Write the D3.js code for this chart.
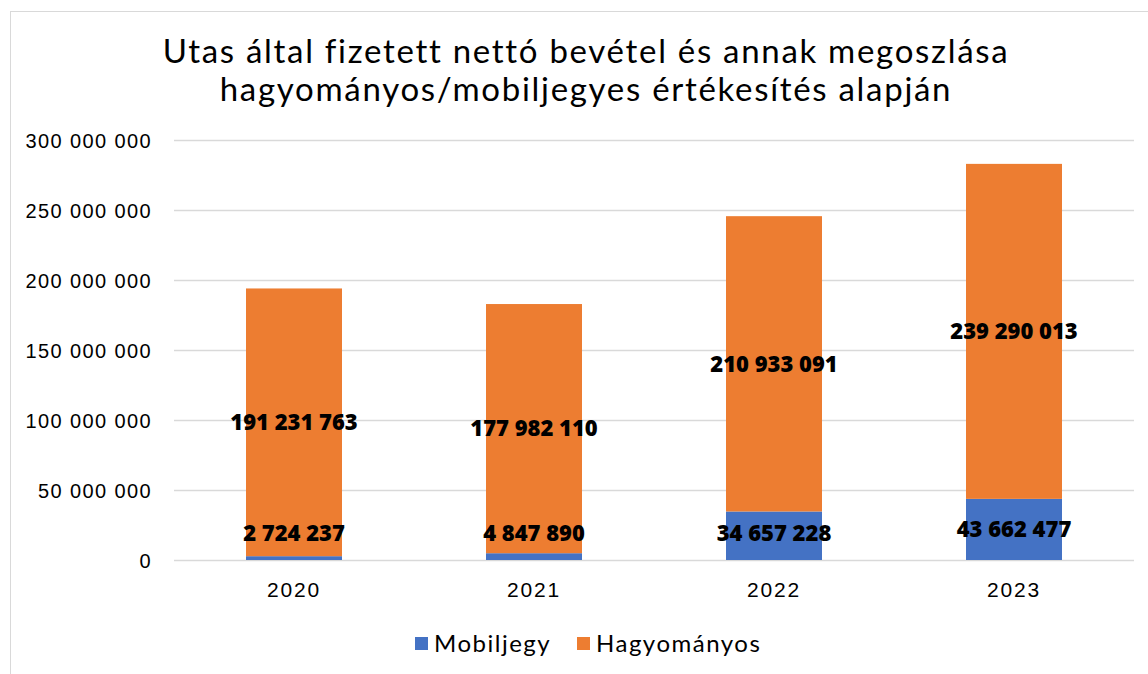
<!DOCTYPE html>
<html>
<head>
<meta charset="utf-8">
<script src="https://cdn.jsdelivr.net/npm/d3@7"></script>
<style>
  body { margin: 0; background: #fff; }
  svg { display: block; }
</style>
</head>
<body>
<div id="chart"></div>
<script>
// Chart data
const years = ['2020', '2021', '2022', '2023'];
const mobil = [2724237, 4847890, 34657228, 43662477];
const hagyomanyos = [191231763, 177982110, 210933091, 239290013];
const seriesNames = ['Mobiljegy', 'Hagyományos'];
const seriesColors = ['#4472C4', '#ED7D31'];
const yTicks = [0, 50000000, 100000000, 150000000, 200000000, 250000000, 300000000];
const titleLines = [
  'Utas által fizetett nettó bevétel és annak megoszlása',
  'hagyományos/mobiljegyes értékesítés alapján'
];

const W = 1148, H = 674;
const margin = { top: 140, left: 174, right: 14, bottom: 114 };
const plotW = W - margin.left - margin.right;
const plotH = H - margin.top - margin.bottom;

const titleFont = 'Lato, "Noto Sans", sans-serif';
const axisFont = '"Liberation Sans", Arial, sans-serif';
const labelFont = '"Noto Sans", "Open Sans", sans-serif';

const svg = d3.select('#chart')
  .append('svg')
  .attr('width', W)
  .attr('height', H);

// Chart frame
svg.append('rect')
  .attr('x', 10.5).attr('y', 11.5)
  .attr('width', W + 20).attr('height', H + 20)
  .attr('fill', 'none')
  .attr('stroke', '#d9d9d9');

// Title
svg.append('g')
  .selectAll('text')
  .data(titleLines)
  .join('text')
  .attr('x', 586)
  .attr('y', (d, i) => 63 + i * 38)
  .attr('text-anchor', 'middle')
  .style('font-family', titleFont)
  .style('font-size', '33px')
  .style('letter-spacing', '1.7px')
  .attr('fill', '#000')
  .text(d => d);

const x = d3.scaleBand()
  .domain(years)
  .range([0, plotW])
  .paddingInner(0.6)
  .paddingOuter(0.3);

const y = d3.scaleLinear()
  .domain([0, 300000000])
  .range([plotH, 0]);

const g = svg.append('g')
  .attr('transform', `translate(${margin.left},${margin.top})`);

const fmt = v => d3.format(',')(v).replace(/,/g, ' ');

// Gridlines
g.append('g')
  .selectAll('line')
  .data(yTicks)
  .join('line')
  .attr('x1', 0).attr('x2', plotW)
  .attr('y1', d => Math.round(y(d)) + 0.5)
  .attr('y2', d => Math.round(y(d)) + 0.5)
  .attr('stroke', '#d9d9d9')
  .attr('stroke-width', 1.5);

// Y axis labels
const yAxis = g.append('g')
  .attr('transform', 'translate(-19,0)')
  .call(d3.axisLeft(y).tickValues(yTicks).tickSize(0).tickFormat(fmt));
yAxis.select('.domain').remove();
yAxis.selectAll('text')
  .style('font-family', axisFont)
  .style('font-size', '20px')
  .style('letter-spacing', '1.4px')
  .attr('fill', '#000')
  .attr('dy', '0.35em');

// X axis labels
const xAxis = g.append('g')
  .attr('transform', `translate(0,${plotH})`)
  .call(d3.axisBottom(x).tickSize(0).tickPadding(22));
xAxis.select('.domain').remove();
xAxis.selectAll('text')
  .style('font-family', axisFont)
  .style('font-size', '21px')
  .style('letter-spacing', '1.8px')
  .attr('fill', '#000');

// Stacked data
const rows = years.map((yr, i) => ({ year: yr, Mobiljegy: mobil[i], 'Hagyományos': hagyomanyos[i] }));
const stacked = d3.stack().keys(seriesNames)(rows);

g.append('g')
  .selectAll('g')
  .data(stacked)
  .join('g')
  .attr('fill', (d, i) => seriesColors[i])
  .selectAll('rect')
  .data(d => d)
  .join('rect')
  .attr('x', d => x(d.data.year))
  .attr('y', d => y(d[1]))
  .attr('width', x.bandwidth())
  .attr('height', d => y(d[0]) - y(d[1]));

// Data labels
const labels = [];
stacked.forEach((s, si) => {
  s.forEach(d => {
    let cy = (y(d[0]) + y(d[1])) / 2;
    if (si === 0) cy = Math.min(cy, plotH - 27);
    labels.push({ x: x(d.data.year) + x.bandwidth() / 2, y: cy, v: d[1] - d[0] });
  });
});

g.append('g')
  .selectAll('text')
  .data(labels)
  .join('text')
  .attr('x', d => d.x)
  .attr('y', d => d.y)
  .attr('dy', '0.35em')
  .attr('text-anchor', 'middle')
  .style('font-family', labelFont)
  .style('font-weight', '900')
  .style('font-size', '22px')
  .attr('fill', '#000')
  .text(d => fmt(d.v));

// Legend
const legend = svg.append('g')
  .attr('transform', 'translate(415,644)');
const legendX = [0, 162];
seriesNames.forEach((name, i) => {
  const item = legend.append('g').attr('transform', `translate(${legendX[i]},0)`);
  item.append('rect')
    .attr('x', 0).attr('y', -7)
    .attr('width', 13).attr('height', 13)
    .attr('fill', seriesColors[i]);
  item.append('text')
    .attr('x', 19).attr('y', 0)
    .attr('dy', '0.35em')
    .style('font-family', titleFont)
    .style('font-size', '24px')
    .style('letter-spacing', '1.5px')
    .attr('fill', '#000')
    .text(name);
});
</script>
</body>
</html>
